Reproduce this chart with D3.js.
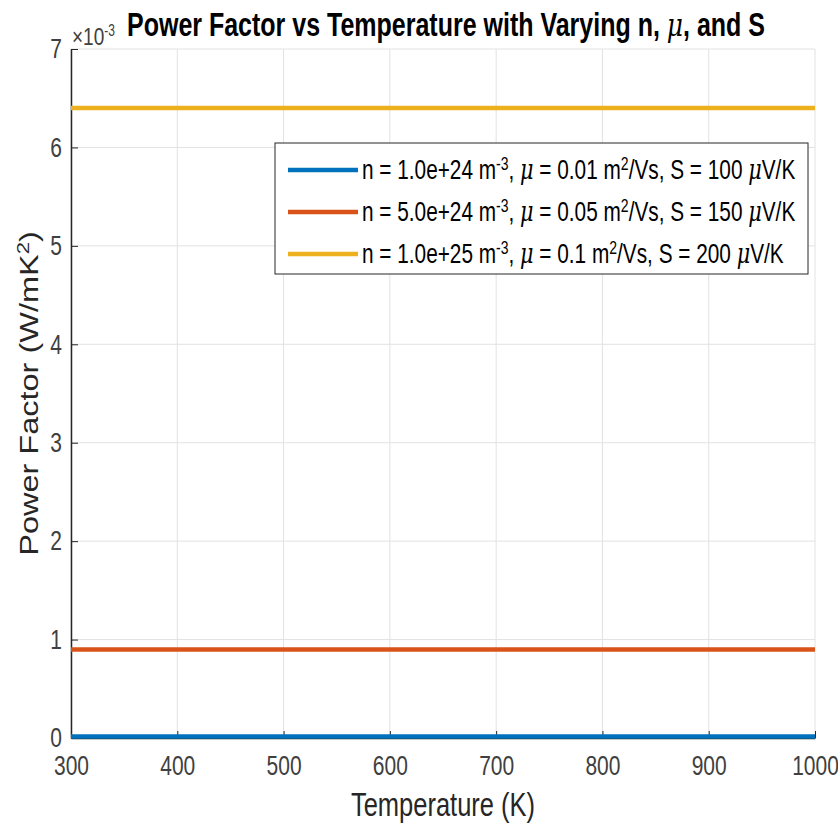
<!DOCTYPE html>
<html>
<head>
<meta charset="utf-8">
<script src="https://cdn.jsdelivr.net/npm/d3@7"></script>
<style>
  body { margin: 0; background: #fff; }
  text { font-family: "Liberation Sans", Arial, sans-serif; }
</style>
</head>
<body>
<div id="chart"></div>
<script>
// data
const temperature = [300, 400, 500, 600, 700, 800, 900, 1000];
const pfSeries1 = [1.6e-5, 1.6e-5, 1.6e-5, 1.6e-5, 1.6e-5, 1.6e-5, 1.6e-5, 1.6e-5];
const pfSeries2 = [9.0e-4, 9.0e-4, 9.0e-4, 9.0e-4, 9.0e-4, 9.0e-4, 9.0e-4, 9.0e-4];
const pfSeries3 = [6.4e-3, 6.4e-3, 6.4e-3, 6.4e-3, 6.4e-3, 6.4e-3, 6.4e-3, 6.4e-3];
const seriesNames = [
    ["1.0e+24", "0.01", "100"],
    ["5.0e+24", "0.05", "150"],
    ["1.0e+25", "0.1", "200"]
];
const xTicks = [300, 400, 500, 600, 700, 800, 900, 1000];
const yTicks = [0, 1, 2, 3, 4, 5, 6, 7];

(function() {
    const W = 838, H = 823;
    const margin = { top: 49, right: 23, bottom: 85, left: 71 };
    const colors = ["#0072BD", "#D95319", "#EDB120"];
    const allSeries = [pfSeries1, pfSeries2, pfSeries3];
    const k = 1.3; // the original figure was stretched vertically

    const svg = d3.select("#chart").append("svg")
        .attr("width", W)
        .attr("height", H);

    const x = d3.scaleLinear().domain([300, 1000]).range([margin.left, W - margin.right]);
    const y = d3.scaleLinear().domain([0, 7]).range([H - margin.bottom, margin.top]);

    // grid
    const grid = svg.append("g");
    grid.selectAll(".gx").data(xTicks).enter().append("line")
        .attr("x1", d => x(d)).attr("x2", d => x(d))
        .attr("y1", y(0)).attr("y2", y(7))
        .attr("stroke", "#e2e2e2").attr("stroke-width", 1);
    grid.selectAll(".gy").data(yTicks).enter().append("line")
        .attr("x1", x(300)).attr("x2", x(1000))
        .attr("y1", d => y(d)).attr("y2", d => y(d))
        .attr("stroke", "#e2e2e2").attr("stroke-width", 1);

    // lines (scaled by 1e3 for the x10^-3 axis)
    const line = d3.line()
        .x((d, i) => x(temperature[i]))
        .y(d => y(d * 1e3));

    // axes
    const xAxis = d3.axisBottom(x).tickValues(xTicks).tickFormat(d3.format("d"))
        .tickSizeInner(-7).tickSizeOuter(0).tickPadding(10);
    const yAxis = d3.axisLeft(y).tickValues(yTicks).tickFormat(d3.format("d"))
        .tickSizeInner(-7).tickSizeOuter(0).tickPadding(9);

    const gx = svg.append("g")
        .attr("transform", `translate(0,${y(0)})`)
        .call(xAxis);
    const gy = svg.append("g")
        .attr("transform", `translate(${x(300)},0)`)
        .call(yAxis);

    [gx, gy].forEach(g => {
        g.select(".domain").attr("stroke", "#262626").attr("stroke-width", 1.5);
        g.selectAll(".tick line").attr("stroke", "#262626");
        g.selectAll(".tick text")
            .attr("fill", "#404040")
            .style("font-size", "21px")
            .attr("transform", `scale(1,${k})`);
    });
    gx.selectAll(".tick text").attr("y", 13.5);

    allSeries.forEach((s, i) => {
        svg.append("path")
            .datum(s)
            .attr("d", line)
            .attr("fill", "none")
            .attr("stroke", colors[i])
            .attr("stroke-width", 4.5);
    });

    // exponent
    const expo = svg.append("g")
        .attr("transform", `translate(${x(300) + 1},45) scale(1,${k})`)
        .append("text")
        .attr("fill", "#404040")
        .style("font-size", "19px");
    expo.append("tspan").text("\u00d710");
    expo.append("tspan").attr("dy", -7).style("font-size", "12px").text("-3");

    // title
    const title = svg.append("g")
        .attr("transform", `translate(446,36) scale(1,${k})`)
        .append("text")
        .attr("text-anchor", "middle")
        .style("font-size", "25px")
        .style("font-weight", "bold")
        .attr("fill", "#000");
    title.append("tspan").text("Power Factor vs Temperature with Varying n, ");
    title.append("tspan").style("font-family", "'DejaVu Serif', serif").style("font-style", "italic").style("font-weight", "normal").text("\u03bc");
    title.append("tspan").text(", and S");

    // axis labels
    svg.append("g")
        .attr("transform", `translate(${(x(300) + x(1000)) / 2},816) scale(1,${k})`)
        .append("text")
        .attr("text-anchor", "middle")
        .attr("fill", "#262626")
        .style("font-size", "25.5px")
        .text("Temperature (K)");

    const yl = svg.append("g")
        .attr("transform", `translate(38,${(y(0) + y(7)) / 2}) scale(1,${k}) rotate(-90)`)
        .append("text")
        .attr("text-anchor", "middle")
        .attr("fill", "#262626")
        .style("font-size", "25px");
    yl.append("tspan").text("Power Factor (W/mK");
    yl.append("tspan").attr("dy", -9).style("font-size", "17px").text("2");
    yl.append("tspan").attr("dy", 9).text(")");

    // legend
    const lg = svg.append("g").attr("transform", "translate(275,143)");
    lg.append("rect")
        .attr("width", 533).attr("height", 131)
        .attr("fill", "#fff")
        .attr("stroke", "#262626").attr("stroke-width", 1);

    seriesNames.forEach((nm, i) => {
        const yy = 27 + i * 42;
        lg.append("line")
            .attr("x1", 13).attr("x2", 83)
            .attr("y1", yy).attr("y2", yy)
            .attr("stroke", colors[i]).attr("stroke-width", 4.5);
        const t = lg.append("g")
            .attr("transform", `translate(87,${yy + 9}) scale(1,${k})`)
            .append("text")
            .attr("fill", "#000")
            .style("font-size", "20.8px");
        t.append("tspan").text(`n = ${nm[0]} m`);
        t.append("tspan").attr("dy", -7).style("font-size", "14px").text("-3");
        t.append("tspan").attr("dy", 7).text(", ");
        t.append("tspan").style("font-family", "'DejaVu Serif', serif").style("font-style", "italic").text("\u03bc");
        t.append("tspan").text(` = ${nm[1]} m`);
        t.append("tspan").attr("dy", -7).style("font-size", "14px").text("2");
        t.append("tspan").attr("dy", 7).text(`/Vs, S = ${nm[2]} `);
        t.append("tspan").style("font-family", "'DejaVu Serif', serif").style("font-style", "italic").text("\u03bc");
        t.append("tspan").text("V/K");
    });
})();
</script>
</body>
</html>
